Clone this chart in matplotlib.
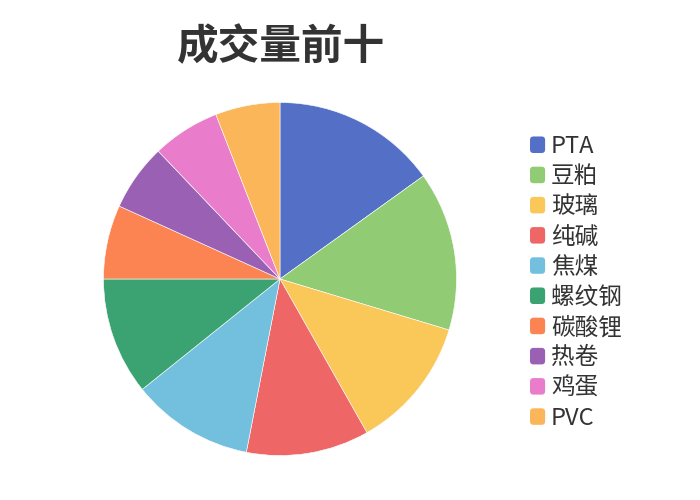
import matplotlib
matplotlib.use("Agg")
import matplotlib.pyplot as plt
from matplotlib.patches import FancyBboxPatch
from matplotlib.legend_handler import HandlerPatch

plt.rcParams["font.family"] = ["Noto Sans CJK SC", "DejaVu Sans"]

# 成交量占比（按饼图角度读取）
names = ["PTA", "豆粕", "玻璃", "纯碱", "焦煤", "螺纹钢", "碳酸锂", "热卷", "鸡蛋", "PVC"]
volumes = [54.3, 52.5, 43.7, 40.5, 40.3, 38.7, 24.4, 22.0, 22.3, 21.3]
colors = ["#5470c6", "#91cc75", "#fac858", "#ee6666", "#73c0de",
          "#3ba272", "#fc8452", "#9a60b4", "#ea7ccc", "#fcb65a"]

W, H = 700, 500
cx, cy, r = 280, 279, 176.5

fig = plt.figure(figsize=(7, 5), dpi=100)
ax = fig.add_axes([(cx - r) / W, (H - cy - r) / H, 2 * r / W, 2 * r / H])
wedges, _ = ax.pie(volumes, colors=colors, startangle=90, counterclock=False,
                   radius=1, wedgeprops=dict(edgecolor="white", linewidth=0.4))
ax.set_xlim(-1, 1)
ax.set_ylim(-1, 1)
ax.set_aspect("equal")
ax.axis("off")

fig.text(281 / W, 1 - 47 / H, "成交量前十", ha="center", va="center",
         fontsize=30, fontweight="bold", color="#333333")


class RoundHandler(HandlerPatch):
    def create_artists(self, legend, orig_handle, xdescent, ydescent,
                       width, height, fontsize, trans):
        p = FancyBboxPatch((-xdescent, -ydescent), width, height,
                           boxstyle="round,pad=0,rounding_size=2.5",
                           facecolor=orig_handle.get_facecolor(),
                           edgecolor="none", transform=trans)
        return [p]


fig.legend(wedges, names, loc="upper left",
           bbox_to_anchor=(530 / W, 1 - 135 / H),
           frameon=False, labelcolor="#333333",
           prop=dict(size=17),
           handlelength=0.64, handleheight=0.7, handletextpad=0.25,
           labelspacing=0.305, borderpad=0, borderaxespad=0,
           handler_map={w: RoundHandler() for w in wedges})

fig.savefig("out.png", dpi=100)
